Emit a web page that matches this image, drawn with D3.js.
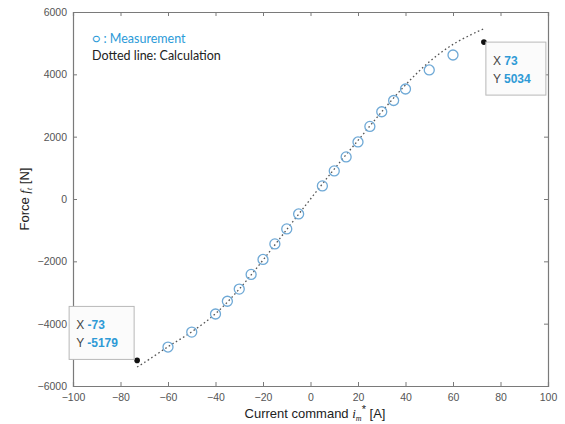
<!DOCTYPE html>
<html>
<head>
<meta charset="utf-8">
<script src="https://cdn.jsdelivr.net/npm/d3@7"></script>
<style>
  html, body { margin: 0; padding: 0; background: #ffffff; }
  svg { display: block; }
</style>
</head>
<body>
<svg id="chart" width="565" height="424"></svg>
<script>
// ---- data ----
const measX = [-60, -50, -40, -35, -30, -25, -20, -15, -10, -5, 5, 10, 15, 20, 25, 30, 35, 40, 50, 60];
const measY = [-4750, -4270, -3690, -3280, -2890, -2420, -1940, -1440, -960, -480, 420, 900, 1350, 1830, 2330, 2800, 3160, 3530, 4140, 4620];
const calcX = [-73, -70, -60, -50, -40, -30, -20, -10, 0, 10, 20, 30, 40, 50, 60, 70, 73];
const calcY = [-5390, -5250, -4740, -4260, -3680, -2890, -1960, -980, 0, 960, 1880, 2800, 3660, 4400, 4960, 5360, 5460];
const tipX = [-73, 73];
const tipY = [-5179, 5034];
const xTicks = [-100, -80, -60, -40, -20, 0, 20, 40, 60, 80, 100];
const yTicks = [-6000, -4000, -2000, 0, 2000, 4000, 6000];

// ---- layout ----
const svg = d3.select("#chart");
const L = 73, R = 548, T = 12, B = 386;
const x = d3.scaleLinear().domain([-100, 100]).range([L, R]);
const y = d3.scaleLinear().domain([-6000, 6000]).range([B, T]);

const axisColor = "#7a7a7a";
const tickFont = "Liberation Sans, Arial, sans-serif";

// plot background
svg.append("rect").attr("x", L).attr("y", T).attr("width", R - L).attr("height", B - T)
  .attr("fill", "#ffffff");

// axes
const gx = svg.append("g").attr("transform", `translate(0,${B})`)
  .call(d3.axisBottom(x).tickValues(xTicks).tickSize(-4).tickPadding(8).tickFormat(d3.format("d")));
const gxTop = svg.append("g").attr("transform", `translate(0,${T})`)
  .call(d3.axisTop(x).tickValues(xTicks).tickSize(-4).tickFormat(""));
const gy = svg.append("g").attr("transform", `translate(${L},0)`)
  .call(d3.axisLeft(y).tickValues(yTicks).tickSize(-4).tickPadding(6).tickFormat(d3.format("d")));
const gyRight = svg.append("g").attr("transform", `translate(${R},0)`)
  .call(d3.axisRight(y).tickValues(yTicks).tickSize(-4).tickFormat(""));

[gx, gxTop, gy, gyRight].forEach(g => {
  g.select(".domain").attr("stroke", axisColor).attr("stroke-width", 1.2);
  g.selectAll(".tick line").attr("stroke", axisColor).attr("stroke-width", 1);
  g.selectAll(".tick text").attr("fill", "#555").attr("font-family", tickFont).attr("font-size", 10.5);
});
gx.selectAll(".tick text").text(d => d < 0 ? "\u2212" + Math.abs(d) : d);
gy.selectAll(".tick text").text(d => d < 0 ? "\u2212" + Math.abs(d) : d);

// calculation line (dotted)
const calc = calcX.map((v, i) => [v, calcY[i]]);
svg.append("path").datum(calc)
  .attr("fill", "none").attr("stroke", "#555").attr("stroke-width", 1.3)
  .attr("stroke-dasharray", "1.6,2.6")
  .attr("d", d3.line().x(d => x(d[0])).y(d => y(d[1])).curve(d3.curveCatmullRom));

// measurement circles
const meas = measX.map((v, i) => [v, measY[i]]);
svg.append("g").selectAll("circle").data(meas).join("circle")
  .attr("cx", d => x(d[0])).attr("cy", d => y(d[1])).attr("r", 5)
  .attr("fill", "none").attr("stroke", "#6fa9d6").attr("stroke-width", 1.3);

// data tips
const tips = tipX.map((v, i) => [v, tipY[i]]);
svg.append("g").selectAll("circle").data(tips).join("circle")
  .attr("cx", d => x(d[0])).attr("cy", d => y(d[1])).attr("r", 2.8)
  .attr("fill", "#111");

function dataTip(bx, by, w, h, xv, yv) {
  const g = svg.append("g");
  g.append("rect").attr("x", bx).attr("y", by).attr("width", w).attr("height", h)
    .attr("fill", "#fbfbfb").attr("stroke", "#b8b8b8").attr("stroke-width", 1);
  const t1 = g.append("text").attr("x", bx + 7).attr("y", by + 23)
    .attr("font-family", tickFont).attr("font-size", 12);
  t1.append("tspan").attr("fill", "#444").text("X ");
  t1.append("tspan").attr("fill", "#2e9ad6").attr("font-weight", "bold").text(xv);
  const t2 = g.append("text").attr("x", bx + 7).attr("y", by + 41)
    .attr("font-family", tickFont).attr("font-size", 12);
  t2.append("tspan").attr("fill", "#444").text("Y ");
  t2.append("tspan").attr("fill", "#2e9ad6").attr("font-weight", "bold").text(yv);
}
// anchored at the tip points
const p1 = [x(tipX[1]), y(tipY[1])];
dataTip(p1[0] + 2, p1[1], 60, 53, String(tipX[1]), String(tipY[1]));
const p0 = [x(tipX[0]), y(tipY[0])];
dataTip(p0[0] - 68, p0[1] - 54, 65, 53, String(tipX[0]), String(tipY[0]));

// legend annotation
const legFont = "Lato, 'Open Sans', sans-serif";
svg.append("text").attr("x", 92).attr("y", 43)
  .attr("font-family", legFont).attr("font-size", 12.5).attr("fill", "#2b9ad8")
  .text("\u25CB : Measurement");
svg.append("text").attr("x", 92).attr("y", 60)
  .attr("font-family", legFont).attr("font-size", 12.5).attr("fill", "#222")
  .text("Dotted line: Calculation");

// axis titles
const xt = svg.append("text").attr("x", 315).attr("y", 418).attr("text-anchor", "middle")
  .attr("font-family", tickFont).attr("font-size", 13).attr("fill", "#222");
xt.append("tspan").text("Current command ");
xt.append("tspan").attr("font-style", "italic").attr("font-family", "Liberation Serif, serif").text("i");
xt.append("tspan").attr("font-style", "italic").attr("font-family", "Liberation Serif, serif")
  .attr("font-size", 8).attr("dy", 3).text("m");
xt.append("tspan").attr("font-size", 11).attr("dy", -8).text("*");
xt.append("tspan").attr("dy", 5).text(" [A]");

const yt = svg.append("text").attr("transform", "translate(29,199) rotate(-90)")
  .attr("text-anchor", "middle")
  .attr("font-family", tickFont).attr("font-size", 13).attr("fill", "#222");
yt.append("tspan").text("Force ");
yt.append("tspan").attr("font-style", "italic").attr("font-family", "Liberation Serif, serif").text("f");
yt.append("tspan").attr("font-style", "italic").attr("font-family", "Liberation Serif, serif")
  .attr("font-size", 8).attr("dy", 3).text("t");
yt.append("tspan").attr("dy", -3).text(" [N]");
</script>
</body>
</html>
